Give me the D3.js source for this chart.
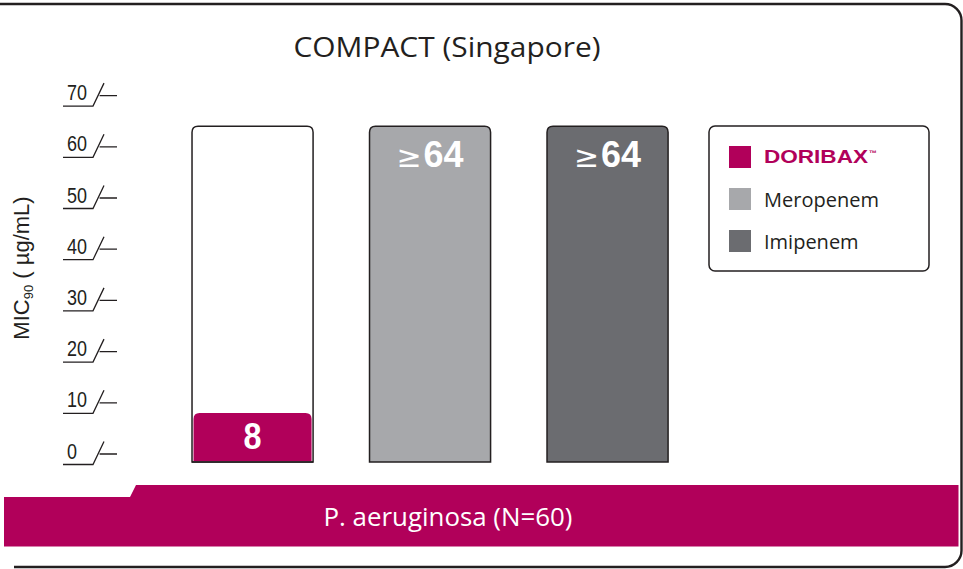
<!DOCTYPE html>
<html>
<head>
<meta charset="utf-8">
<script src="https://cdn.jsdelivr.net/npm/d3@7"></script>
<style>
  html, body { margin: 0; padding: 0; background: #fff; }
  svg { display: block; }
</style>
</head>
<body>
<svg id="chart" width="963" height="569"></svg>
<script>
// ---- data ----
const categories = ["DORIBAX", "Meropenem", "Imipenem"];
const values = [8, 64, 64];
const valueLabels = ["8", "≥64", "≥64"];
const yTicks = [0, 10, 20, 30, 40, 50, 60, 70];
const legendLabels = ["DORIBAX", "Meropenem", "Imipenem"];
const titleText = "COMPACT (Singapore)";
const groupLabel = "P. aeruginosa (N=60)";

// ---- style ----
const MAGENTA = "#b1005a";
const LIGHT = "#a7a8ab";
const DARK = "#6b6c70";
const INK = "#231f20";
const colors = [MAGENTA, LIGHT, DARK];

const svg = d3.select("#chart");

const y = d3.scaleLinear().domain([0, 70]).range([454, 95.6]);
const x = d3.scaleBand().domain(categories).range([163.8, 696.3])
  .paddingInner(0.318).paddingOuter(0.159);

// frame
svg.append("path")
  .attr("d", "M0,4 H945 A16.5,16.5 0 0 1 961.5,20.5 V550.5 A16.5,16.5 0 0 1 945,567 H14")
  .attr("fill", "none").attr("stroke", INK).attr("stroke-width", 2.4);

// band
svg.append("path")
  .attr("d", "M4,497 H130 L136,485 H958.5 V546.5 H4 Z")
  .attr("fill", MAGENTA);
svg.append("text")
  .attr("x", 448).attr("y", 526)
  .attr("text-anchor", "middle")
  .attr("font-family", "'Open Sans', sans-serif")
  .attr("font-size", 26)
  .attr("fill", "#fff")
  .attr("textLength", 249).attr("lengthAdjust", "spacingAndGlyphs")
  .text(groupLabel);

// title
svg.append("text")
  .attr("x", 447).attr("y", 57)
  .attr("text-anchor", "middle")
  .attr("font-family", "'Open Sans', sans-serif")
  .attr("font-size", 28)
  .attr("fill", INK)
  .attr("textLength", 307).attr("lengthAdjust", "spacingAndGlyphs")
  .text(titleText);

// y axis ticks (custom stylized)
const tg = svg.append("g").attr("class", "yaxis");
const tick = tg.selectAll("g.tick").data(yTicks).join("g")
  .attr("class", "tick")
  .attr("transform", d => `translate(0,${y(d)})`);
tick.append("path")
  .attr("d", "M63,10.5 H93 L104,-12.5 M99.6,0 H117")
  .attr("fill", "none").attr("stroke", INK).attr("stroke-width", 1.3);
tick.append("text")
  .attr("x", 67).attr("y", 4.5)
  .attr("font-family", "'Liberation Sans', Arial, sans-serif")
  .attr("font-size", 22)
  .attr("fill", INK)
  .attr("textLength", d => String(d).length * 10)
  .attr("lengthAdjust", "spacingAndGlyphs")
  .text(d => d);

// y axis title
const yt = svg.append("text")
  .attr("transform", "translate(29,268) rotate(-90)")
  .attr("text-anchor", "middle")
  .attr("font-family", "'Liberation Sans', Arial, sans-serif")
  .attr("font-size", 22)
  .attr("fill", INK);
yt.append("tspan").text("MIC");
yt.append("tspan").attr("font-size", 13).attr("dy", 4).text("90");
yt.append("tspan").attr("dy", -4).text(" ( µg/mL)");

// bars
const maxV = d3.max(values);
const r = 6;
function topRounded(x0, y0, w, h, rr) {
  return `M${x0},${y0 + h} V${y0 + rr} Q${x0},${y0} ${x0 + rr},${y0} H${x0 + w - rr} Q${x0 + w},${y0} ${x0 + w},${y0 + rr} V${y0 + h} Z`;
}
const bottom = y(0) + 8;
const bars = svg.append("g").selectAll("g").data(categories).join("g");
bars.each(function(c, i) {
  const g = d3.select(this);
  const x0 = x(c), w = x.bandwidth();
  if (i === 0) {
    g.append("path")
      .attr("d", topRounded(x0, y(maxV), w, bottom - y(maxV), r))
      .attr("fill", "#fff").attr("stroke", INK).attr("stroke-width", 1.5);
    g.append("path")
      .attr("d", topRounded(x0 + 1.5, y(values[i]), w - 3, bottom - y(values[i]) - 0.8, r))
      .attr("fill", colors[i]);
    g.append("line")
      .attr("x1", x0).attr("x2", x0 + w).attr("y1", bottom).attr("y2", bottom)
      .attr("stroke", INK).attr("stroke-width", 1.5);
  } else {
    g.append("path")
      .attr("d", topRounded(x0, y(values[i]), w, bottom - y(values[i]), r))
      .attr("fill", colors[i]).attr("stroke", INK).attr("stroke-width", 1.5);
  }
  const ly = values[i] < 20 ? y(0) - 5 : y(values[i]) + 41;
  const t = g.append("text")
    .attr("x", x0 + w / 2).attr("y", ly)
    .attr("text-anchor", "middle")
    .attr("font-family", "'Liberation Sans', Arial, sans-serif")
    .attr("font-size", 37)
    .attr("font-weight", "bold")
    .attr("fill", "#fff");
  const lab = valueLabels[i];
  if (lab.startsWith("≥")) {
    t.append("tspan").attr("font-weight", "normal").attr("font-family", "'DejaVu Sans', sans-serif").attr("font-size", 30).text("≥");
    t.append("tspan").attr("dx", 2).attr("textLength", 40).attr("lengthAdjust", "spacingAndGlyphs").text(lab.slice(1));
  } else {
    t.append("tspan").attr("textLength", 18).attr("lengthAdjust", "spacingAndGlyphs").text(lab);
  }
});

// legend
const lg = svg.append("g");
lg.append("rect")
  .attr("x", 709).attr("y", 126).attr("width", 220).attr("height", 145)
  .attr("rx", 6).attr("fill", "#fff").attr("stroke", INK).attr("stroke-width", 1.5);
const li = lg.selectAll("g.item").data(legendLabels).join("g")
  .attr("class", "item")
  .attr("transform", (d, i) => `translate(729,${146 + i * 42})`);
li.append("rect").attr("width", 22).attr("height", 22).attr("fill", (d, i) => colors[i]);
li.each(function(d, i) {
  const g = d3.select(this);
  if (i === 0) {
    const t = g.append("text")
      .attr("x", 35).attr("y", 16.5)
      .attr("font-family", "'Liberation Sans', Arial, sans-serif")
      .attr("font-weight", "bold").attr("font-size", 18)
      .attr("fill", MAGENTA);
    t.append("tspan").attr("textLength", 104).attr("lengthAdjust", "spacingAndGlyphs").text(d);
    t.append("tspan").attr("font-size", 8).attr("dy", -7).attr("dx", 1).text("™");
  } else {
    g.append("text")
      .attr("x", 35).attr("y", 19)
      .attr("font-family", "'Open Sans', sans-serif")
      .attr("font-size", 20)
      .attr("fill", INK)
      .text(d);
  }
});
</script>
</body>
</html>
